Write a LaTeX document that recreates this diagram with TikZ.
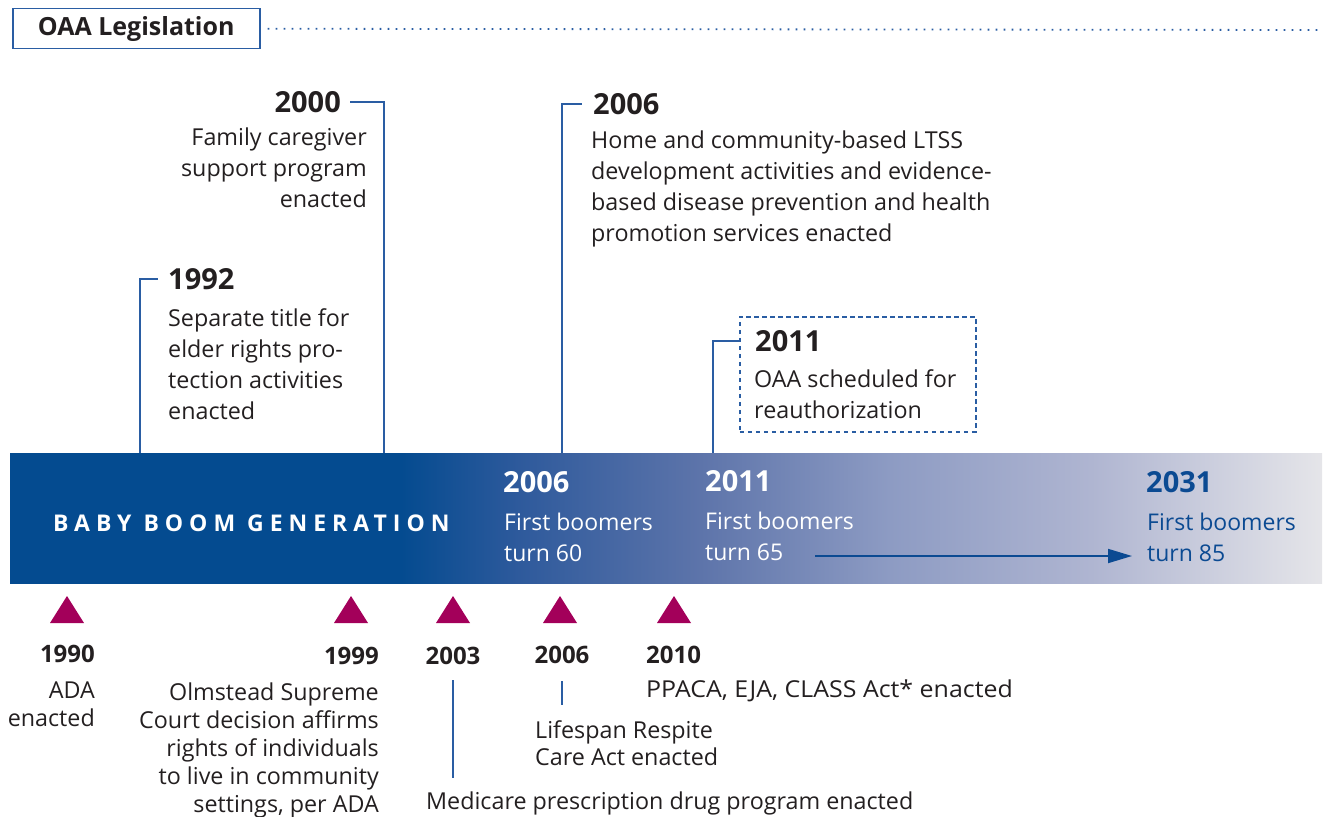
\documentclass[tikz,border=0pt]{standalone}
\usepackage{fontspec}
\setmainfont{Open Sans}
\usetikzlibrary{arrows.meta}
\definecolor{bandblue}{HTML}{044B90}
\definecolor{bandgrey}{HTML}{E5E5E9}
\definecolor{lineblue}{HTML}{2A5DA3}
\definecolor{ink}{HTML}{231F20}
\definecolor{magentaT}{HTML}{A3005A}
\definecolor{darkblue}{HTML}{0B4A92}
\definecolor{bandA}{HTML}{2E5A9C}
\definecolor{bandB}{HTML}{5D74AA}
\definecolor{bandC}{HTML}{8D9BC3}
\definecolor{bandD}{HTML}{AFB5D1}
\pgfdeclarehorizontalshading{bandshade}{100bp}{color(0bp)=(bandblue); color(39.9bp)=(bandblue); color(44.4bp)=(bandA); color(51.3bp)=(bandB); color(58.5bp)=(bandC); color(66.2bp)=(bandD); color(75bp)=(bandgrey); color(100bp)=(bandgrey)}
\tikzset{
  body/.style={font=\fontsize{23.3}{31}\selectfont, text=ink, inner sep=0pt},
  bodylow/.style={font=\fontsize{23.3}{27.8}\selectfont, text=ink, inner sep=0pt},
  yeartop/.style={font=\fontsize{29}{34}\selectfont\bfseries, text=ink, inner sep=0pt},
  yearlow/.style={font=\fontsize{24}{28}\selectfont\bfseries, text=ink, inner sep=0pt},
  bandyear/.style={font=\fontsize{29}{34}\selectfont\bfseries, inner sep=0pt},
  bandtext/.style={font=\fontsize{23}{31}\selectfont, inner sep=0pt},
  leader/.style={draw=lineblue, line width=1.6pt},
  marker/.style={fill=magentaT, draw=none},
}
\begin{document}
\begin{tikzpicture}[x=1pt,y=-1pt]
\useasboundingbox (0,0) rectangle (1329,816);

% header
\node[draw=lineblue, line width=1.5pt, minimum width=247pt, minimum height=40pt, anchor=north west,
      font=\fontsize{25}{30}\selectfont\bfseries, text=ink, inner sep=0pt] (hdr) at (12,8) {OAA Legislation};
\coordinate (dotend) at (1320,30);
\draw[lineblue, line width=1.8pt, dash pattern=on 1.8pt off 6.2pt] ([xshift=7pt]hdr.east) -- (dotend);

% band
\shade[shading=bandshade] (10,453) rectangle (1322,583);
\coordinate (bandtop1992) at (140,453);
\coordinate (bandtop2000) at (384,453);
\coordinate (bandtop2006) at (562,453);
\coordinate (bandtop2011) at (713,453);

\node[anchor=west, text=white, font=\fontsize{23}{28}\selectfont\bfseries\addfontfeatures{LetterSpace=26}, inner sep=0pt] (bb) at (53,523) {BABY BOOM GENERATION};

\node[bandyear, text=white, anchor=west] (b06y) at (503,482) {2006};
\node[bandtext, text=white, anchor=north west, align=left] (b06t) at (504,513) {First boomers\\turn 60};
\node[bandyear, text=white, anchor=west] (b11y) at (705,481) {2011};
\node[bandtext, text=white, anchor=north west, align=left] (b11t) at (705,512) {First boomers\\turn 65};
\node[bandyear, text=darkblue, anchor=west] (b31y) at (1146,482) {2031};
\node[bandtext, text=darkblue, anchor=north west, align=left] (b31t) at (1147,513) {First boomers\\turn 85};
\coordinate (arrS) at (815,556);
\coordinate (arrE) at (1132,556);
\draw[darkblue, line width=1.8pt, -{Triangle[length=24pt,width=14pt]}] (arrS) -- (arrE);

% top events
\node[yeartop, anchor=west] (y1992) at (168,279) {1992};
\node[body, anchor=north west, align=left] (t1992) at (168,308) {Separate title for\\elder rights pro-\\tection activities\\enacted};
\draw[leader] (bandtop1992) |- ([xshift=-10pt]y1992.west);

\node[yeartop, anchor=east] (y2000) at (341,102) {2000};
\node[body, anchor=north east, align=right] (t2000) at (367,128) {Family caregiver\\support program\\enacted};
\draw[leader] (bandtop2000) |- ([xshift=9pt]y2000.east);

\node[yeartop, anchor=west] (y2006) at (593,104) {2006};
\node[body, anchor=north west, align=left] (t2006) at (591,131) {Home and community-based LTSS\\development activities and evidence-\\based disease prevention and health\\promotion services enacted};
\draw[leader] (bandtop2006) |- ([xshift=-11pt]y2006.west);

\node[body, anchor=north west, align=left] (t2011) at (754,369) {OAA scheduled for\\reauthorization};
\node[yeartop, anchor=west] (y2011) at (755,341) {2011};
\node[draw=lineblue, line width=1.5pt, dash pattern=on 4.5pt off 3.5pt, anchor=north west,
      minimum width=236pt, minimum height=115pt, inner sep=0pt] (box2011) at (739,316) {};
\draw[leader] (bandtop2011) |- (box2011.west |- y2011.west);

% bottom markers
\foreach \n/\x in {m1990/67, m1999/351, m2003/453, m2006/560, m2010/674}{
  \fill[marker] (\x-17,623) -- (\x,596) -- (\x+17,623) -- cycle;
}

\node[yearlow, anchor=east] (l1990) at (95,654) {1990};
\node[bodylow, anchor=north east, align=right] (lt1990) at (95,682) {ADA\\enacted};

\node[yearlow, anchor=east] (l1999) at (379,656) {1999};
\node[bodylow, anchor=north east, align=right] (lt1999) at (379,683) {Olmstead Supreme\\Court decision affirms\\rights of individuals\\to live in community\\settings, per ADA};

\node[yearlow] (l2003) at (453,656) {2003};
\node[bodylow, anchor=west] (lt2003) at (426,803) {Medicare prescription drug program enacted};
\coordinate (c2003a) at (453,680);
\coordinate (c2003b) at (453,778);
\draw[leader] (c2003a) -- (c2003b);

\node[yearlow] (l2006) at (562,655) {2006};
\node[bodylow, anchor=north west, align=left] (lt2006) at (535,720) {Lifespan Respite\\Care Act enacted};
\coordinate (c2006a) at (562,681);
\coordinate (c2006b) at (562,705);
\draw[leader] (c2006a) -- (c2006b);

\node[yearlow, anchor=west] (l2010) at (646,655) {2010};
\node[bodylow, anchor=west, font=\fontsize{23.3}{27.8}\selectfont\addfontfeatures{FakeStretch=1.07}] (lt2010) at (646,691) {PPACA, EJA, CLASS Act* enacted};
\end{tikzpicture}
\end{document}
